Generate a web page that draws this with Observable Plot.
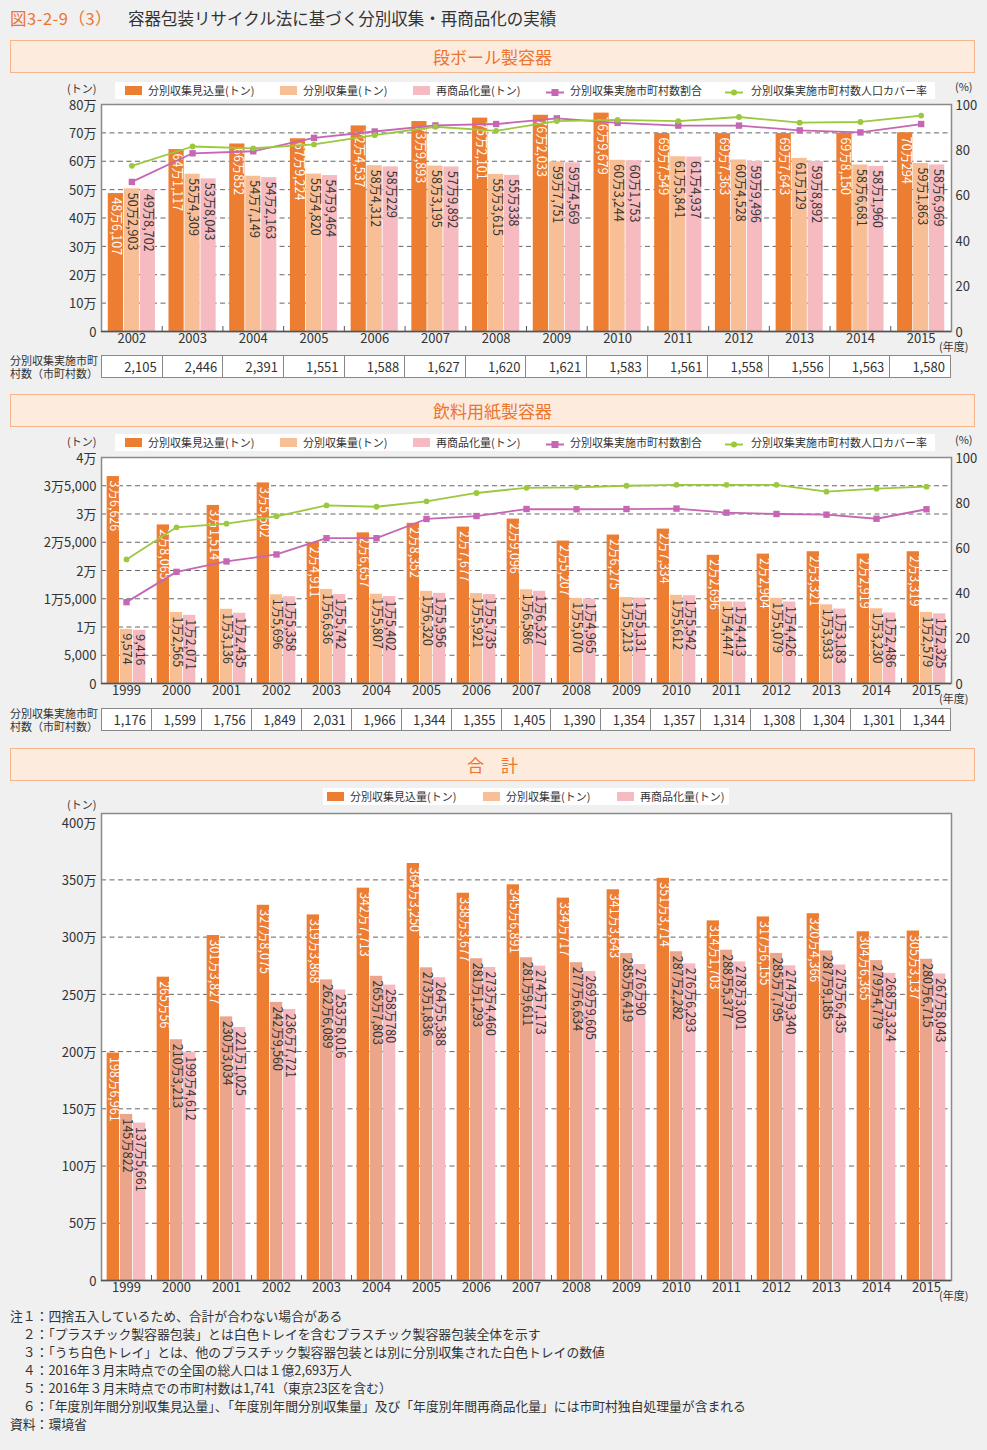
<!DOCTYPE html>
<html><head><meta charset="utf-8">
<script src="https://cdn.jsdelivr.net/npm/d3@7"></script>
<script src="https://cdn.jsdelivr.net/npm/@observablehq/plot@0.6"></script>
<style>
body{margin:0;background:#EFF0EF;font-family:"Noto Sans CJK JP","Noto Sans",sans-serif;color:#333;}
#page{position:relative;width:987px;height:1450px;overflow:hidden;}
.abs{position:absolute;white-space:nowrap;}
.hdr{position:absolute;left:10px;width:963px;height:31px;background:#FDEBDD;border:1px solid #F6B58A;color:#EC7530;font-size:17px;text-align:center;line-height:31px;}
.leg{position:absolute;background:#fff;height:17px;}
.leg span{position:absolute;font-size:11px;line-height:17px;top:0;color:#333;white-space:nowrap;}
.sw{position:absolute;top:4px;width:17px;height:9px;}
table.cnt{position:absolute;border-collapse:collapse;table-layout:fixed;background:#fff;}
table.cnt td{border:1px solid #888;font-size:13px;text-align:right;padding:0 5px 0 0;height:21px;line-height:21px;}
.tl{position:absolute;left:10px;font-size:11px;line-height:12px;height:12px;overflow:visible;}
.fn{position:absolute;left:10px;font-size:12.8px;line-height:18px;white-space:pre;}
</style></head>
<body><div id="page"></div>
<script>
// ---------------- data ----------------
const yearsA = [2002,2003,2004,2005,2006,2007,2008,2009,2010,2011,2012,2013,2014,2015];
const cardEst = [486107,641117,660852,679224,724537,739893,752101,762033,769679,697549,697363,697643,698150,700294];
const cardCol = [502903,554309,547149,554820,584312,583195,553615,597751,603244,615841,604528,610129,586681,591863];
const cardRec = [498702,538043,542163,549464,580229,579892,550338,594569,601753,614937,599496,598892,581960,586969];
const cardMuniPct = [65.9,78.5,79.4,85.3,88.1,90.8,91.4,93.9,91.9,90.7,90.7,88.6,87.7,91.4];
const cardPopPct  = [73.0,81.5,80.7,82.4,86.5,90.2,88.4,92.7,93.2,92.7,94.5,92.0,92.3,95.1];
const cardMuni = [2105,2446,2391,1551,1588,1627,1620,1621,1583,1561,1558,1556,1563,1580];

const yearsB = [1999,2000,2001,2002,2003,2004,2005,2006,2007,2008,2009,2010,2011,2012,2013,2014,2015];
const bevEst = [36626,28065,31514,35502,24911,26657,28352,27677,29096,25207,26275,27334,22696,22904,23321,22919,23319];
const bevCol = [9574,12565,13136,15696,16636,15807,16320,15921,16586,15070,15213,15612,14447,15079,13933,13230,12579];
const bevRec = [9416,12071,12435,15358,15742,15402,15956,15735,16327,14965,15131,15542,14413,14426,13183,12486,12325];
const bevMuniPct = [36.0,49.4,54.0,57.1,64.3,64.3,72.8,74.1,77.2,77.1,77.2,77.4,75.6,75.0,74.7,72.9,77.1];
const bevPopPct  = [54.9,69.1,70.7,74.0,78.8,78.2,80.6,84.3,86.6,86.8,87.5,87.9,87.9,87.9,84.9,86.2,87.1];
const bevMuni = [1176,1599,1756,1849,2031,1966,1344,1355,1405,1390,1354,1357,1314,1308,1304,1301,1344];

const totEst = [1986961,2650056,3013827,3278075,3193868,3427713,3643250,3383677,3456891,3340717,3413643,3513714,3141703,3176155,3204366,3046365,3053137];
const totCol = [1450822,2103213,2303034,2429560,2626089,2657803,2731836,2811293,2819611,2776634,2856419,2872282,2885377,2857795,2879185,2794779,2806715];
const totRec = [1375661,1994612,2211025,2367721,2538016,2580780,2645388,2734460,2747173,2699605,2760090,2766293,2783001,2749340,2756435,2683324,2678043];

const seriesNames = ["分別収集見込量(トン)","分別収集量(トン)","再商品化量(トン)"];
const lineNames = ["分別収集実施市町村数割合","分別収集実施市町村数人口カバー率"];
const pctTicks = [0,20,40,60,80,100];

// ---------------- style ----------------
const ORANGE="#ED7D31", PEACH="#F8BF96", PINK="#F5BBC1", PEACH3="#EAA58A", PURPLE="#C567B4", GREEN="#9CC83F";
const FONT='"Noto Sans CJK JP","Noto Sans",sans-serif';
const page = document.getElementById("page");

function fmt(v){
  if (v === 0) return "0";
  const man = Math.floor(v/10000), rest = v % 10000;
  if (man === 0) return d3.format(",")(rest);
  return man + "万" + (rest ? d3.format(",")(rest) : "");
}
function el(tag, cls, css, html){
  const e=document.createElement(tag); if(cls) e.className=cls;
  Object.assign(e.style, css||{}); if(html!=null) e.innerHTML=html; page.appendChild(e); return e;
}

function panel(cfg){
  const n = cfg.years.length, idx = d3.range(n);
  const BW = 0.79/3, L = -0.395;
  const f = cfg.yMax/100;
  const fills = [ORANGE, cfg.colFill, PINK];
  const arrs = [cfg.est, cfg.col, cfg.rec];
  const marks = [Plot.frame({fill:"white", stroke:null}),
    Plot.ruleY(cfg.grid, {stroke:"#666", strokeDasharray:"5,3.5", strokeWidth:1})];
  arrs.forEach((arr,j)=>{
    marks.push(Plot.rectY(idx, {x1: i=> i+L+j*BW, x2: i=> i+L+(j+1)*BW, y1: 0, y2: i=> arr[i], fill: fills[j], insetLeft:0.4, insetRight:0.4}));
  });
  arrs.forEach((arr,j)=>{
    marks.push(Plot.text(idx, {x: i=> i+L+(j+0.5)*BW, y: i=> arr[i], text: i=> fmt(arr[i]), rotate:90, textAnchor:"start", dy:4, dx:0.5, fill: j===0?"white":"#333", fontSize:12.5}));
  });
  if (cfg.pctA){
    marks.push(Plot.line(idx, {x:i=>i, y:i=>cfg.pctA[i]*f, stroke:PURPLE, strokeWidth:1.8}));
    marks.push(Plot.line(idx, {x:i=>i, y:i=>cfg.pctB[i]*f, stroke:GREEN, strokeWidth:1.8}));
    marks.push(Plot.dot(idx, {x:i=>i, y:i=>cfg.pctA[i]*f, symbol:"square", fill:PURPLE, r:3.6}));
    marks.push(Plot.dot(idx, {x:i=>i, y:i=>cfg.pctB[i]*f, symbol:"circle", fill:GREEN, r:2.9}));
    marks.push(Plot.text(pctTicks, {frameAnchor:"right", y: p=>p*f, text: p=>String(p), textAnchor:"start", dx:4, dy:1, fontSize:13}));
  }
  marks.push(Plot.frame({stroke:"#8a8a8a", strokeWidth:1.5}));
  marks.push(Plot.ruleY([0], {stroke:"#555", strokeWidth:1.6}));
  marks.push(Plot.ruleX(d3.range(n-1).map(i=>i+0.5), {x:d=>d, y1:0, y2: cfg.yMax*5/cfg.frameH, stroke:"#555", strokeWidth:1}));
  marks.push(Plot.text(cfg.yTicks, {frameAnchor:"left", y:d=>d, text: fmt, textAnchor:"end", dx:-5, dy:1, fontSize:13}));
  marks.push(Plot.text(idx, {x:i=>i, frameAnchor:"bottom", dy:11, text: i=> String(cfg.years[i]), fontSize:13}));
  const svg = Plot.plot({
    width:987, height: cfg.marginTop+cfg.frameH+22,
    marginLeft:101, marginRight:36, marginTop:cfg.marginTop, marginBottom:22,
    x:{type:"linear", domain:[-0.5, n-0.5], axis:null},
    y:{type:"linear", domain:[0, cfg.yMax], axis:null},
    style:{fontFamily:FONT, color:"#333", background:"transparent", overflow:"visible"},
    marks
  });
  svg.style.position="absolute"; svg.style.left="0px"; svg.style.top=cfg.top+"px";
  page.appendChild(svg);
  el("div","abs",{left:"939px", top:(cfg.top+cfg.marginTop+cfg.frameH+9)+"px", fontSize:"11px", lineHeight:"12px"},"(年度)");
}

function legend(top, left, width, items){
  const box = el("div","leg",{top:top+"px", left:left+"px", width:width+"px"});
  items.forEach(it=>{
    if (it.kind==="rect"){
      const s=document.createElement("div"); s.className="sw"; s.style.left=(it.x-left)+"px"; s.style.background=it.color; box.appendChild(s);
    } else {
      const s=document.createElement("div"); s.style.position="absolute"; s.style.left=(it.x-left)+"px"; s.style.top="0px";
      const mk = it.marker==="square" ? `<rect x="5.5" y="5" width="7" height="7" fill="${it.color}"/>` : `<circle cx="9" cy="8.5" r="3" fill="${it.color}"/>`;
      s.innerHTML = `<svg width="18" height="17"><line x1="0" x2="18" y1="8.5" y2="8.5" stroke="${it.color}" stroke-width="2"/>${mk}</svg>`;
      box.appendChild(s);
    }
    const t=document.createElement("span"); t.style.left=(it.tx-left)+"px"; t.textContent=it.label; box.appendChild(t);
  });
}

function countTable(top, counts){
  el("div","tl",{top:(top-1)+"px"},"分別収集実施市町");
  el("div","tl",{top:(top+12)+"px"},"村数（市町村数）");
  const t = el("table","cnt",{left:"101px", top:top+"px", width:"850px"});
  const tr=document.createElement("tr");
  counts.forEach(c=>{const td=document.createElement("td"); td.textContent=d3.format(",")(c); tr.appendChild(td);});
  t.appendChild(tr);
}

// ---------------- layout ----------------
el("div","abs",{left:"10px", top:"8px", fontSize:"16.5px", lineHeight:"20px", color:"#EC7530", letterSpacing:"0.5px"},"図3-2-9（3）");
el("div","abs",{left:"128px", top:"8px", fontSize:"16.5px", lineHeight:"20px", color:"#333"},"容器包装リサイクル法に基づく分別収集・再商品化の実績");

el("div","hdr",{top:"40px"},"段ボール製容器");
el("div","hdr",{top:"394px"},"飲料用紙製容器");
el("div","hdr",{top:"748px"},"合　計");

const legItems5 = [
  {kind:"rect", color:ORANGE, x:125, tx:148, label:seriesNames[0]},
  {kind:"rect", color:PEACH, x:280, tx:303, label:seriesNames[1]},
  {kind:"rect", color:PINK, x:413, tx:436, label:seriesNames[2]},
  {kind:"line", marker:"square", color:PURPLE, x:546, tx:570, label:lineNames[0]},
  {kind:"line", marker:"circle", color:GREEN, x:725, tx:751, label:lineNames[1]}
];

panel({years:yearsA, est:cardEst, col:cardCol, rec:cardRec, colFill:PEACH, pctA:cardMuniPct, pctB:cardPopPct,
  yMax:800000, yTicks:d3.range(0,800001,100000), grid:d3.range(100000,700001,100000), top:80, marginTop:24, frameH:227});
legend(82,115,820,legItems5);
el("div","abs",{left:"67px", top:"81px", fontSize:"11px", lineHeight:"14px"},"(トン)");
el("div","abs",{left:"955px", top:"80px", fontSize:"11px", lineHeight:"13px"},"(%)");
countTable(355, cardMuni);

panel({years:yearsB, est:bevEst, col:bevCol, rec:bevRec, colFill:PEACH, pctA:bevMuniPct, pctB:bevPopPct,
  yMax:40000, yTicks:d3.range(0,40001,5000), grid:d3.range(5000,35001,5000), top:430, marginTop:27, frameH:226});
legend(434,115,820,legItems5);
el("div","abs",{left:"67px", top:"434px", fontSize:"11px", lineHeight:"14px"},"(トン)");
el("div","abs",{left:"955px", top:"433px", fontSize:"11px", lineHeight:"13px"},"(%)");
countTable(708, bevMuni);

panel({years:yearsB, est:totEst, col:totCol, rec:totRec, colFill:PEACH3,
  yMax:4080000, yTicks:d3.range(0,4000001,500000), grid:d3.range(500000,3500001,500000), top:806, marginTop:7, frameH:467});
legend(788,323,406,[
  {kind:"rect", color:ORANGE, x:327, tx:350, label:seriesNames[0]},
  {kind:"rect", color:PEACH, x:483, tx:506, label:seriesNames[1]},
  {kind:"rect", color:PINK, x:617, tx:640, label:seriesNames[2]}
]);
el("div","abs",{left:"67px", top:"797px", fontSize:"11px", lineHeight:"14px"},"(トン)");

const notes = [
  "注１：四捨五入しているため、合計が合わない場合がある",
  "　２：「プラスチック製容器包装」とは白色トレイを含むプラスチック製容器包装全体を示す",
  "　３：「うち白色トレイ」とは、他のプラスチック製容器包装とは別に分別収集された白色トレイの数値",
  "　４：2016年３月末時点での全国の総人口は１億2,693万人",
  "　５：2016年３月末時点での市町村数は1,741（東京23区を含む）",
  "　６：「年度別年間分別収集見込量」、「年度別年間分別収集量」及び「年度別年間再商品化量」には市町村独自処理量が含まれる",
  "資料：環境省"
];
el("div","fn",{top:"1307px"}, notes.join("\n"));
</script>
</body></html>
